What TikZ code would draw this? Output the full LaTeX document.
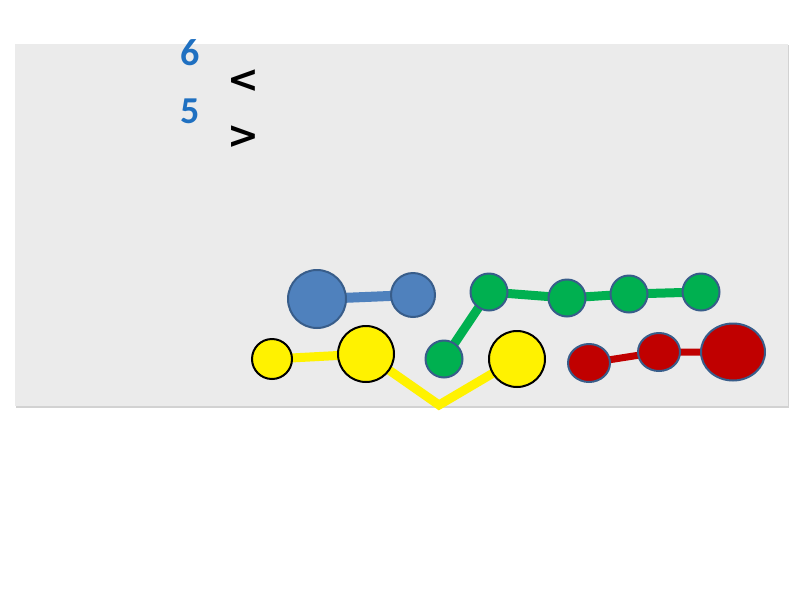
\documentclass[tikz,border=0pt]{standalone}
\usepackage{fontspec}
\setmainfont{Carlito}
\newfontfamily\symfont{DejaVu Sans}
\usetikzlibrary{shapes.geometric}
\pgfdeclarelayer{bg}
\pgfdeclarelayer{edges}
\pgfsetlayers{bg,edges,main}
\definecolor{panel}{HTML}{EBEBEB}
\definecolor{numblue}{HTML}{1F70C1}
\definecolor{bluefill}{HTML}{4F81BD}
\definecolor{blueline}{HTML}{385D8A}
\definecolor{greenfill}{HTML}{00B050}
\definecolor{redfill}{HTML}{C00000}
\tikzset{
  num/.style={font=\fontsize{38}{38}\bfseries\selectfont, text=numblue, inner sep=0pt},
  sym/.style={font=\symfont\fontsize{38}{38}\bfseries\selectfont, text=black, inner sep=0pt, text height=24pt, text depth=0pt},
  bball/.style={circle, draw=blueline, line width=2pt, fill=bluefill, inner sep=0pt, minimum size=#1},
  gball/.style={circle, draw=blueline, line width=2pt, fill=greenfill, inner sep=0pt, minimum size=#1},
  yball/.style={circle, draw=black, line width=2pt, fill=yellow, inner sep=0pt, minimum size=#1},
  rball/.style={ellipse, draw=blueline, line width=2pt, fill=redfill, inner sep=0pt},
  bedge/.style={draw=bluefill, line width=10pt},
  gedge/.style={draw=greenfill, line width=9pt},
  yedge/.style={draw=yellow, line width=9pt},
  redge/.style={draw=redfill, line width=7pt},
}
\begin{document}
\begin{tikzpicture}[x=1pt,y=-1pt]
\useasboundingbox (0,0) rectangle (800,600);
\begin{pgfonlayer}{bg}
  \fill[gray!35] (16,45) rectangle (789,408);
  \fill[panel] (15,44) rectangle (788,406);
\end{pgfonlayer}
\node[num] (six) at (190,53) {6};
\node[num] (five) at (190,111) {5};
\node[sym] (lt) at (243,80) {<};
\node[sym] (gt) at (243,136) {>};
% blue
\node[bball=58pt] (b1) at (317,299) {};
\node[bball=44pt] (b2) at (413,295) {};
% green
\node[gball=37pt] (g0) at (444,359) {};
\node[gball=37pt] (g1) at (489,292) {};
\node[gball=37pt] (g2) at (567,298) {};
\node[gball=37pt] (g3) at (629,294) {};
\node[gball=37pt] (g4) at (701,292) {};
% yellow
\node[yball=40pt] (y1) at (272,359) {};
\node[yball=56pt] (y2) at (366,354) {};
\node[yball=56pt] (y3) at (517,359) {};
\coordinate (yv) at (439,405);
% red
\node[rball, minimum width=42pt, minimum height=38pt] (r1) at (589,363) {};
\node[rball, minimum width=42pt, minimum height=38pt] (r2) at (659,352) {};
\node[rball, minimum width=64pt, minimum height=57pt] (r3) at (733,352) {};
\begin{pgfonlayer}{edges}
  \draw[bedge] (b1.center) -- (b2.center);
  \draw[gedge] (g0.center) -- (g1.center) -- (g2.center) -- (g3.center) -- (g4.center);
  \draw[yedge] (y1.center) -- (y2.center);
  \draw[yedge, line join=miter] (y2.center) -- (yv) -- (y3.center);
  \draw[redge] (r1.center) -- (r2.center) -- (r3.center);
\end{pgfonlayer}
\end{tikzpicture}
\end{document}
